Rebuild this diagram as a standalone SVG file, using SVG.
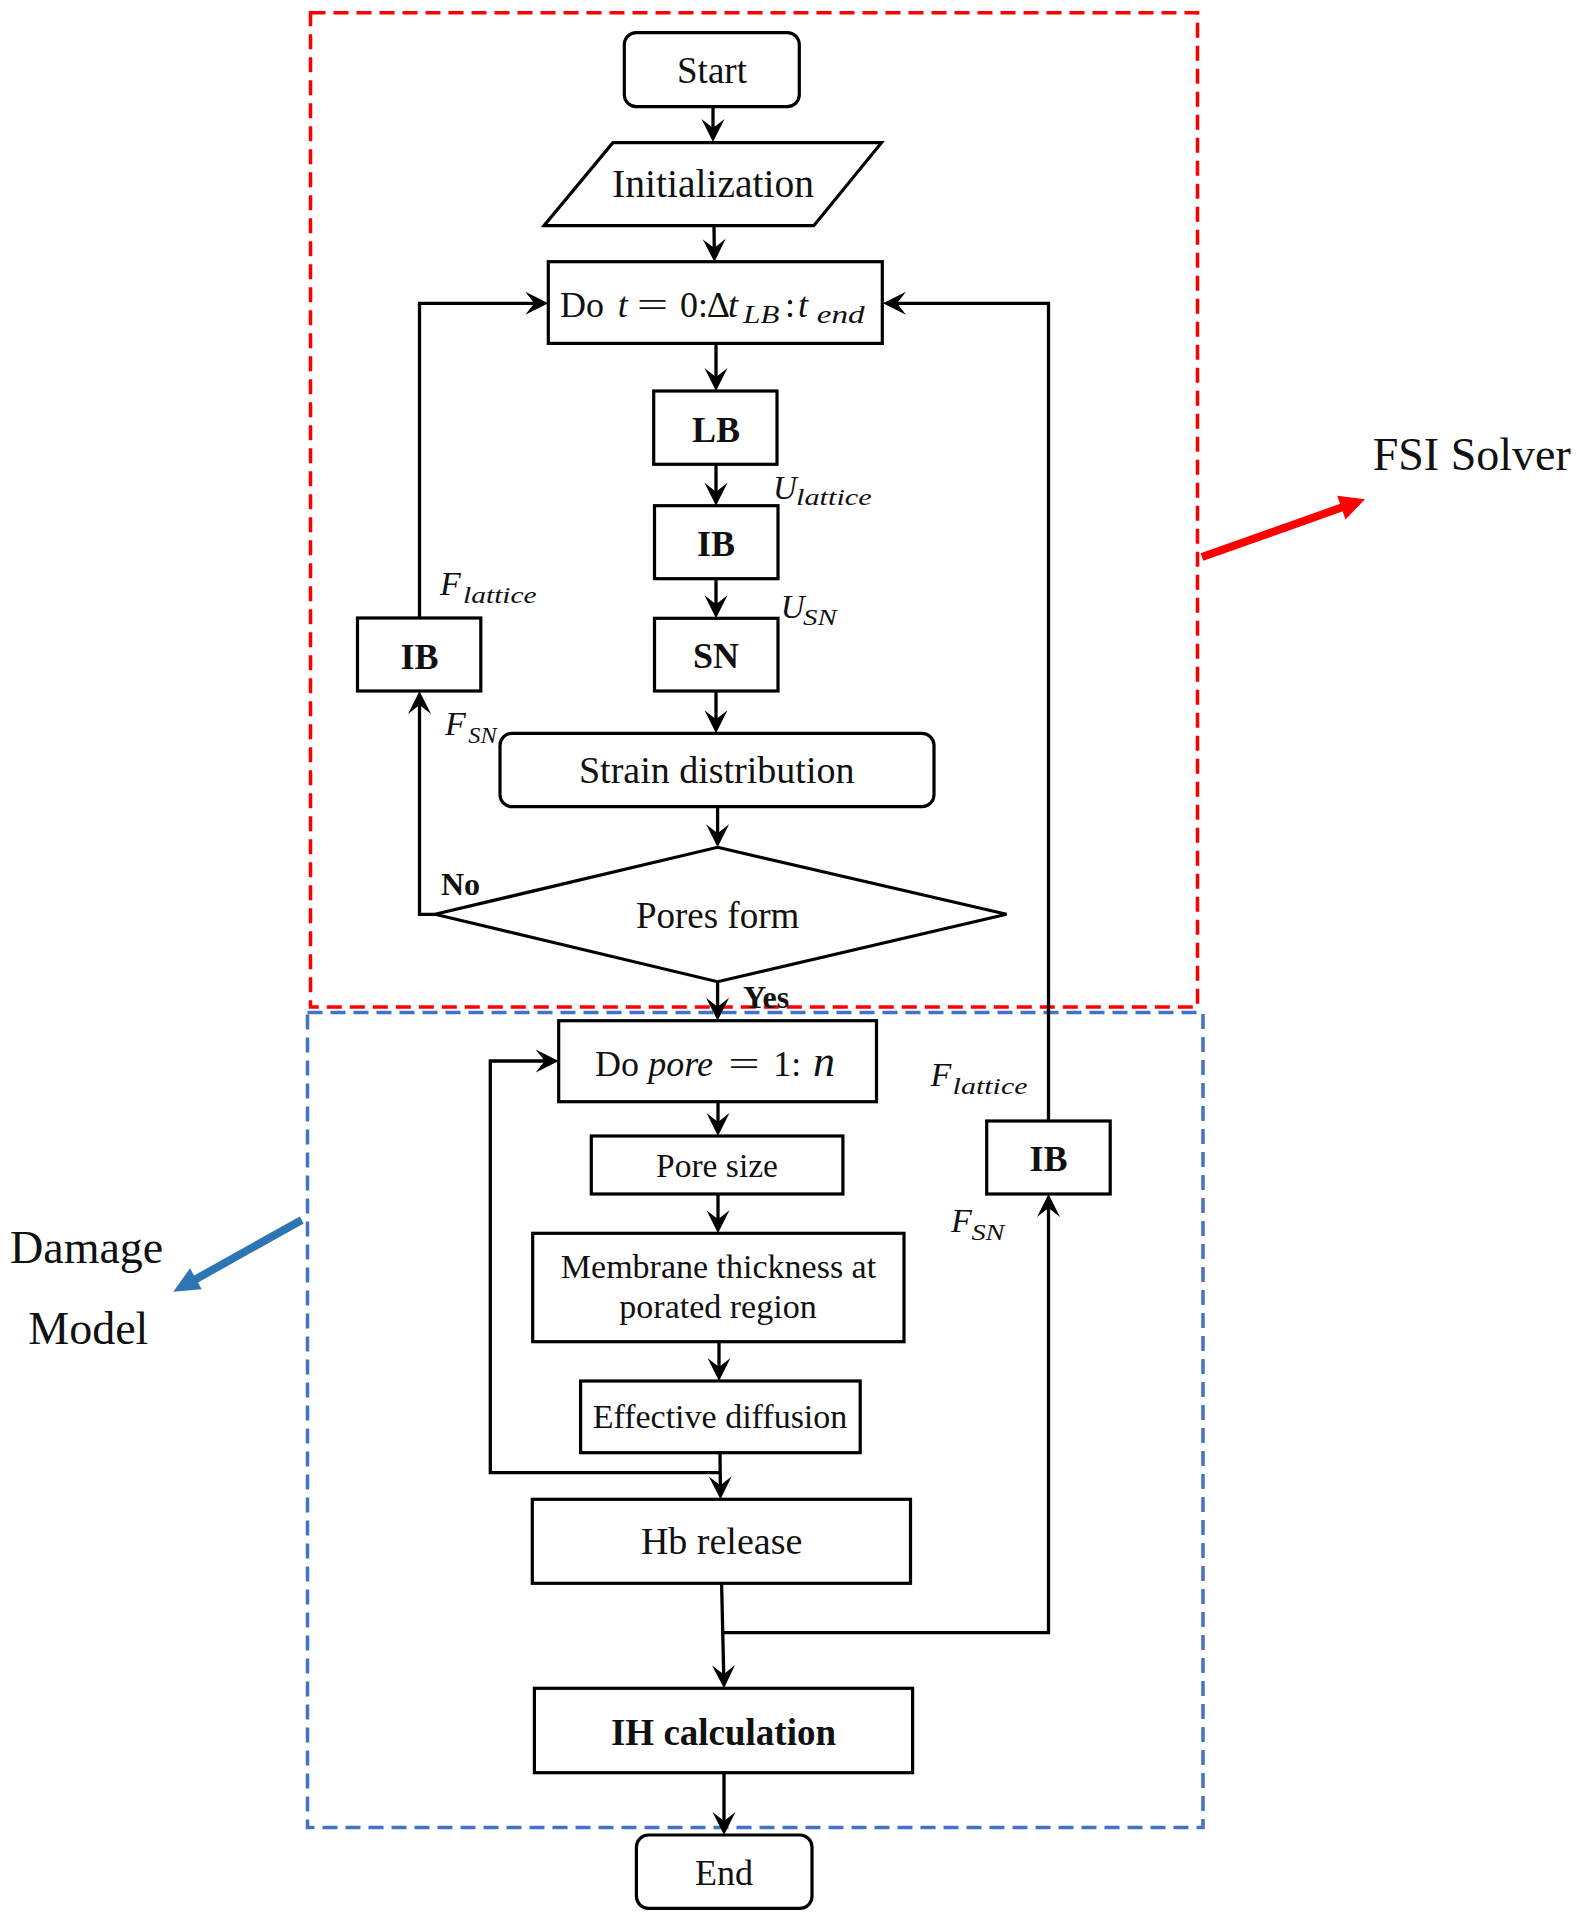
<svg xmlns="http://www.w3.org/2000/svg" width="1585" height="1920" viewBox="0 0 1585 1920">
<defs>
<style>
.box{fill:#fff;stroke:#000;stroke-width:3.2}
.t{font-family:"Liberation Serif","Times New Roman",serif;fill:#111}
.c{text-anchor:middle}
.b{font-weight:bold}
.i{font-style:italic}
.con{fill:none;stroke:#000;stroke-width:3.3}
</style>
<marker id="ah" viewBox="-25 -13 27 26" refX="-10" refY="0" markerWidth="27" markerHeight="26" markerUnits="userSpaceOnUse" orient="auto">
<path d="M0,0 L-23,-11.5 L-14,0 L-23,11.5 Z" fill="#000"/>
</marker>
</defs>
<rect width="1585" height="1920" fill="#fff"/>

<g id="regions">
<rect x="310.5" y="12.7" width="887" height="994.3" fill="none" stroke="#FF0000" stroke-width="3.5" stroke-dasharray="15 8"/>
<rect x="307.5" y="1012.5" width="895.5" height="815" fill="none" stroke="#4472C4" stroke-width="3.5" stroke-dasharray="15 8"/>
</g>

<g id="connectors">
<path class="con" d="M713,107 L713,132" marker-end="url(#ah)"/>
<path class="con" d="M714,226 L714.3,252" marker-end="url(#ah)"/>
<path class="con" d="M716,344 L716,381" marker-end="url(#ah)"/>
<path class="con" d="M716,464.3 L716,495.7" marker-end="url(#ah)"/>
<path class="con" d="M716,578.7 L716,608.3" marker-end="url(#ah)"/>
<path class="con" d="M716,691 L716,723.3" marker-end="url(#ah)"/>
<path class="con" d="M717.6,806.7 L717.6,837.3" marker-end="url(#ah)"/>
<path class="con" d="M717.6,981.7 L717.6,1010.7" marker-end="url(#ah)"/>
<path class="con" d="M435,914.3 L419.5,914.3 L419.5,701" marker-end="url(#ah)"/>
<path class="con" d="M419.5,618 L419.5,303.3 L538.3,303.3" marker-end="url(#ah)"/>
<path class="con" d="M718,1101.7 L718,1126" marker-end="url(#ah)"/>
<path class="con" d="M718,1194 L718,1223.3" marker-end="url(#ah)"/>
<path class="con" d="M719,1341.7 L719,1371" marker-end="url(#ah)"/>
<path class="con" d="M720,1452.7 L720.4,1489.3" marker-end="url(#ah)"/>
<path class="con" d="M720.2,1472.7 L490.3,1472.7 L490.3,1061 L548.7,1061" marker-end="url(#ah)"/>
<path class="con" d="M721.6,1583.3 L723.8,1678.3" marker-end="url(#ah)"/>
<path class="con" d="M722.8,1632.7 L1048.5,1632.7 L1048.5,1204" marker-end="url(#ah)"/>
<path class="con" d="M1048.5,1121 L1048.5,303.3 L893,303.3" marker-end="url(#ah)"/>
<path class="con" d="M724,1772.7 L724,1825" marker-end="url(#ah)"/>
</g>

<g id="start">
<rect class="box" x="624.3" y="32.7" width="175" height="74" rx="12"/>
<text class="t c" x="712" y="82.7" font-size="37">Start</text>
</g>
<g id="initialization">
<path class="box" d="M612.9,142.7 L881.5,142.7 L813.8,225.7 L544,225.7 Z"/>
<text class="t c" x="713" y="197" font-size="39.5">Initialization</text>
</g>
<g id="do-time-loop">
<rect class="box" x="548.3" y="261.7" width="334" height="81.7"/>
<text class="t" font-size="36" y="316.7"><tspan x="560">Do</tspan><tspan class="i" x="617.7">t</tspan><tspan x="680">0:</tspan><tspan x="706.7">Δ</tspan><tspan class="i" x="728">t</tspan></text>
<text class="t c" font-size="36" transform="translate(652.5,316.7) scale(1.55,1)">=</text>
<text class="t i" font-size="26" x="743.3" y="323.3" textLength="36" lengthAdjust="spacingAndGlyphs">LB</text>
<text class="t" font-size="36" x="785" y="316.7">:</text>
<text class="t i" font-size="36" x="798" y="316.7">t</text>
<text class="t i" font-size="26" x="816.7" y="323.3" textLength="48" lengthAdjust="spacingAndGlyphs">end</text>
</g>
<g id="lb">
<rect class="box" x="653.7" y="391" width="123.3" height="73.3"/>
<text class="t c b" x="716" y="441.7" font-size="36">LB</text>
</g>
<g id="ib-1">
<rect class="box" x="654.5" y="505.7" width="123.5" height="73"/>
<text class="t c b" x="716" y="556" font-size="36">IB</text>
</g>
<g id="sn">
<rect class="box" x="654.5" y="618.3" width="123.5" height="72.7"/>
<text class="t c b" x="716" y="668.3" font-size="36">SN</text>
</g>
<g id="ib-2">
<rect class="box" x="357.5" y="618" width="123.3" height="73"/>
<text class="t c b" x="419.5" y="669.3" font-size="36">IB</text>
</g>
<g id="strain">
<rect class="box" x="500" y="733.3" width="434" height="73.4" rx="12"/>
<text class="t c" x="716.7" y="783.3" font-size="38">Strain distribution</text>
</g>
<g id="pores-form">
<path class="box" d="M717.6,847.3 L1006.5,914.3 L717.6,981.7 L435,914.3 Z"/>
<text class="t c" x="717.6" y="928.3" font-size="37">Pores form</text>
</g>
<g id="do-pore-loop">
<rect class="box" x="558.7" y="1020.7" width="317.8" height="81"/>
<text class="t" font-size="36" y="1075.7"><tspan x="595">Do</tspan><tspan class="i" x="648.3">pore</tspan><tspan x="773.3">1:</tspan></text>
<text class="t c" font-size="36" transform="translate(744,1075.7) scale(1.55,1)">=</text>
<text class="t i" font-size="44" x="813" y="1075.7">n</text>
</g>
<g id="pore-size">
<rect class="box" x="591.3" y="1136" width="251.6" height="58"/>
<text class="t c" x="717" y="1176.7" font-size="33.5">Pore size</text>
</g>
<g id="membrane">
<rect class="box" x="532.7" y="1233.3" width="371.3" height="108.4"/>
<text class="t c" x="718.5" y="1278.3" font-size="34">Membrane thickness at</text>
<text class="t c" x="718" y="1318.3" font-size="34">porated region</text>
</g>
<g id="effective">
<rect class="box" x="580.6" y="1381" width="279.6" height="71.7"/>
<text class="t c" x="720" y="1428.3" font-size="34">Effective diffusion</text>
</g>
<g id="ib-3">
<rect class="box" x="986.7" y="1121" width="123.5" height="73"/>
<text class="t c b" x="1048.5" y="1170.7" font-size="36">IB</text>
</g>
<g id="hb-release">
<rect class="box" x="532.3" y="1499.3" width="378.2" height="84"/>
<text class="t c" x="721.6" y="1554" font-size="38">Hb release</text>
</g>
<g id="ih">
<rect class="box" x="534.4" y="1688.3" width="378.2" height="84.4"/>
<text class="t c b" x="723.5" y="1745" font-size="37">IH calculation</text>
</g>
<g id="end">
<rect class="box" x="636.4" y="1835" width="175.6" height="73.3" rx="12"/>
<text class="t c" x="724" y="1885" font-size="36">End</text>
</g>

<g id="labels">
<text class="t b" x="441" y="895" font-size="32">No</text>
<text class="t b" x="743" y="1008.3" font-size="32">Yes</text>
<text class="t i" x="773" y="499" font-size="33">U</text>
<text class="t i" x="796" y="505" font-size="24" textLength="75.7" lengthAdjust="spacingAndGlyphs">lattice</text>
<text class="t i" x="780.7" y="618.3" font-size="33">U</text>
<text class="t i" x="803" y="625" font-size="24" textLength="33.7" lengthAdjust="spacingAndGlyphs">SN</text>
<text class="t i" x="440" y="595" font-size="34">F</text>
<text class="t i" x="463" y="603.3" font-size="24" textLength="73.7" lengthAdjust="spacingAndGlyphs">lattice</text>
<text class="t i" x="445" y="735" font-size="34">F</text>
<text class="t i" x="468.3" y="743.3" font-size="24" textLength="28.4" lengthAdjust="spacingAndGlyphs">SN</text>
<text class="t i" x="930.6" y="1086" font-size="34">F</text>
<text class="t i" x="952.6" y="1094.3" font-size="24" textLength="75" lengthAdjust="spacingAndGlyphs">lattice</text>
<text class="t i" x="951" y="1231.7" font-size="34">F</text>
<text class="t i" x="971.4" y="1240" font-size="24" textLength="33.2" lengthAdjust="spacingAndGlyphs">SN</text>
</g>

<g id="fsi-solver">
<line x1="1202" y1="557" x2="1343" y2="507" stroke="#FF0000" stroke-width="8"/>
<path d="M1365,499.3 L1345.5,519.4 L1337.2,495.8 Z" fill="#FF0000"/>
<text class="t" x="1372.7" y="470" font-size="46">FSI Solver</text>
</g>
<g id="damage-model">
<line x1="301.7" y1="1220" x2="193" y2="1280.7" stroke="#2E75B6" stroke-width="8"/>
<path d="M173.3,1291.7 L190,1268.3 L201.7,1289.3 Z" fill="#2E75B6"/>
<text class="t" x="10" y="1262.7" font-size="46">Damage</text>
<text class="t" x="28.3" y="1344" font-size="46">Model</text>
</g>
</svg>
